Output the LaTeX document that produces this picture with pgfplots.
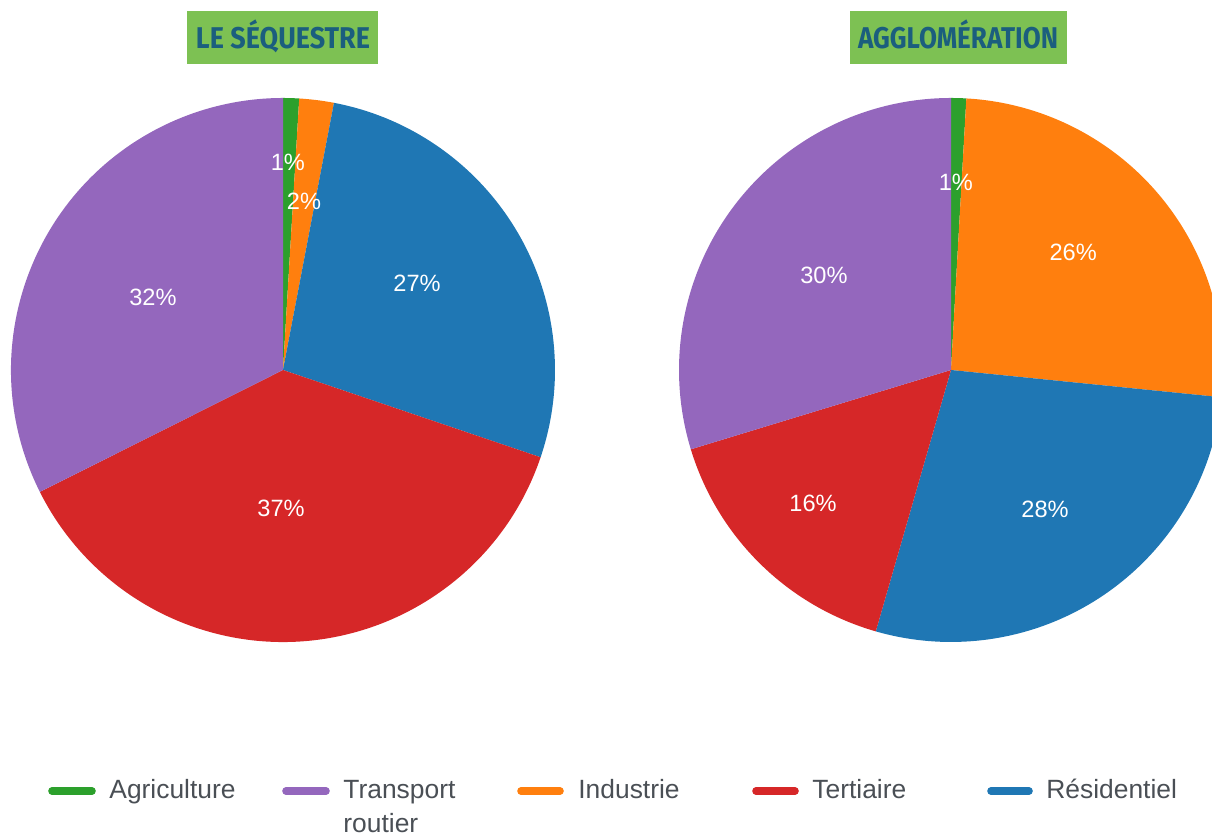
\documentclass[border=0pt]{standalone}
\usepackage{pgfplots}
\pgfplotsset{compat=1.18}
\usepackage{pgfplotstable}
\usepackage{graphicx}
\usepackage{fontspec}
\setmainfont{Liberation Sans}
\newfontfamily\titlefont{Fira Sans}

\definecolor{cAgri}{HTML}{2CA02C}
\definecolor{cInd}{HTML}{FF7F0E}
\definecolor{cRes}{HTML}{1F77B4}
\definecolor{cTer}{HTML}{D62728}
\definecolor{cTra}{HTML}{9467BD}
\definecolor{boxgreen}{HTML}{7DC153}
\definecolor{titleblue}{HTML}{1B5E7E}
\definecolor{legtext}{HTML}{4A4F55}

% value (%), colour, label position (axis units, radius = 1)
\pgfplotstableread{
cat         val   col   lx      ly
Agriculture 0.95  cAgri 0.018   0.765
Industrie   2.05  cInd  0.077   0.621
Residentiel 27.2  cRes  0.493   0.320
Tertiaire   37.4  cTer  -0.007  -0.507
Transport   32.4  cTra  -0.478  0.268
}\seqtable

\pgfplotstableread{
cat         val    col   lx      ly
Agriculture 0.9    cAgri 0.018   0.688
Industrie   25.7   cInd  0.449   0.434
Residentiel 27.86  cRes  0.346   -0.511
Tertiaire   15.83  cTer  -0.507  -0.489
Transport   29.71  cTra  -0.467  0.346
}\aggtable

\newcommand{\labelfont}{\fontsize{11.8}{14}\selectfont}

\newcommand{\drawpie}[1]{%
  \def\cum{0}%
  \pgfplotsforeachungrouped \i in {0,...,4} {%
    \pgfplotstablegetelem{\i}{val}\of{#1}\let\v\pgfplotsretval
    \pgfplotstablegetelem{\i}{col}\of{#1}\let\c\pgfplotsretval
    \pgfmathsetmacro{\sa}{90-3.6*\cum}%
    \pgfmathsetmacro{\ea}{90-3.6*(\cum+\v)}%
    \pgfmathsetmacro{\cum}{\cum+\v}%
    \edef\temp{\noexpand\fill[\c] (axis cs:0,0) -- (axis cs:{cos(\sa)},{sin(\sa)}) arc[start angle=\sa, end angle=\ea, radius=136pt] -- cycle;}%
    \temp
  }%
  \pgfplotsforeachungrouped \i in {0,...,4} {%
    \pgfplotstablegetelem{\i}{val}\of{#1}\let\v\pgfplotsretval
    \pgfplotstablegetelem{\i}{lx}\of{#1}\let\lx\pgfplotsretval
    \pgfplotstablegetelem{\i}{ly}\of{#1}\let\ly\pgfplotsretval
    \pgfmathtruncatemacro{\r}{round(\v)}%
    \edef\temp{\noexpand\node[text=white, font=\noexpand\labelfont, inner sep=0pt] at (axis cs:\lx,\ly) {\r\noexpand\%};}%
    \temp
  }%
}

\begin{document}
\begin{tikzpicture}[x=0.5pt,y=0.5pt]
\useasboundingbox (0,0) rectangle (1212,838);
\clip (0,0) rectangle (1212,838);

% Left pie
\begin{axis}[at={(141.5pt,234pt)}, anchor=center, width=272pt, height=272pt,
  scale only axis, xmin=-1, xmax=1, ymin=-1, ymax=1, hide axis, clip=false]
\drawpie{\seqtable}
\end{axis}

% Right pie
\begin{axis}[at={(475.5pt,234pt)}, anchor=center, width=272pt, height=272pt,
  scale only axis, xmin=-1, xmax=1, ymin=-1, ymax=1, hide axis, clip=false]
\drawpie{\aggtable}
\end{axis}

% Titles
\fill[boxgreen] (187,774) rectangle (378,827);
\node[anchor=base, inner sep=0pt, text=titleblue] at (283,789.7)
  {\resizebox{87pt}{\height}{\titlefont\bfseries\fontsize{15}{18}\selectfont LE SÉQUESTRE}};
\fill[boxgreen] (850,774) rectangle (1067,827);
\node[anchor=base, inner sep=0pt, text=titleblue] at (958,789.7)
  {\resizebox{100pt}{\height}{\titlefont\bfseries\fontsize{15}{18}\selectfont AGGLOMÉRATION}};

% Legend
\begin{scope}[line width=3.8pt, line cap=round]
\draw[cAgri] (52,47) -- (92,47);
\draw[cTra] (286,47) -- (326,47);
\draw[cInd] (521,47) -- (560,47);
\draw[cTer] (756,47) -- (795,47);
\draw[cRes] (991,47) -- (1029,47);
\end{scope}
\begin{scope}[every node/.style={anchor=base west, inner sep=0pt, text=legtext,
    font=\fontsize{13.2}{16}\selectfont}]
\node at (109,39) {Agriculture};
\node at (343,39) {Transport};
\node at (343,5) {routier};
\node at (578,39) {Industrie};
\node at (812,39) {Tertiaire};
\node at (1046,39) {Résidentiel};
\end{scope}
\end{tikzpicture}
\end{document}
